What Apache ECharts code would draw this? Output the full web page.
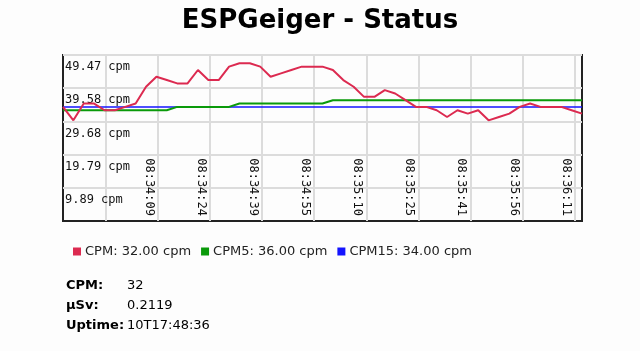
<!DOCTYPE html>
<html>
<head>
<meta charset="utf-8">
<script src="https://cdn.jsdelivr.net/npm/echarts@6/dist/echarts.min.js"></script>
<style>
  html, body { margin: 0; padding: 0; background: #fdfdfd; }
  #container { width: 640px; height: 351px; }
</style>
</head>
<body>
<div id="container"></div>
<script>
// samples every ~3s, starting 08:33:41.4 (seconds of day)
var sampleStart = 30821.43;
var sampleStep = 3.048;

var cpm = [34, 30, 35, 35, 33, 33, 34, 35, 40, 43,
           42, 41, 41, 45, 42, 42, 46, 47, 47, 46,
           43, 44, 45, 46, 46, 46, 45, 42, 40, 37,
           37, 39, 38, 36, 34, 34, 33, 31, 33, 32,
           33, 30, 31, 32, 34, 35, 34, 34, 34, 33, 32];
var cpm5 = [33, 33, 33, 33, 33, 33, 33, 33, 33, 33,
            33, 34, 34, 34, 34, 34, 34, 35, 35, 35,
            35, 35, 35, 35, 35, 35, 36, 36, 36, 36,
            36, 36, 36, 36, 36, 36, 36, 36, 36, 36,
            36, 36, 36, 36, 36, 36, 36, 36, 36, 36, 36];
var cpm15 = [34, 34, 34, 34, 34, 34, 34, 34, 34, 34,
             34, 34, 34, 34, 34, 34, 34, 34, 34, 34,
             34, 34, 34, 34, 34, 34, 34, 34, 34, 34,
             34, 34, 34, 34, 34, 34, 34, 34, 34, 34,
             34, 34, 34, 34, 34, 34, 34, 34, 34, 34, 34];

// x ticks (seconds of day), first one has no label
var xTicks = [30834.0, 30849.3, 30864.6, 30879.9, 30895.2,
              30910.5, 30925.8, 30941.1, 30956.4, 30971.7];
var yTicks = [9.894, 19.788, 29.682, 39.576, 49.47];

var statusLabels = ['CPM:', 'µSv:', 'Uptime:'];
var statusValues = ['32', '0.2119', '10T17:48:36'];

var seriesNames = ['CPM', 'CPM5', 'CPM15'];
var seriesColors = ['#dc2a50', '#0a9a0a', '#1414ff'];
var seriesData = [cpm, cpm5, cpm15];

function pad(n) { return (n < 10 ? '0' : '') + n; }
function fmtTime(s) {
    s = Math.floor(s + 1e-6);
    var h = Math.floor(s / 3600), m = Math.floor((s % 3600) / 60), sec = s % 60;
    return pad(h) + ':' + pad(m) + ':' + pad(sec);
}
function withTime(arr) {
    return arr.map(function (v, i) { return [sampleStart + i * sampleStep, v]; });
}

var dom = document.getElementById('container');
var myChart = echarts.init(dom);

var graphics = [];
statusLabels.forEach(function (lab, i) {
    graphics.push({
        type: 'text', left: 66, top: 279 + i * 20.3,
        style: { text: lab, font: 'bold 13px "DejaVu Sans"', fill: '#000' }
    });
    graphics.push({
        type: 'text', left: 127, top: 279 + i * 20.3,
        style: { text: statusValues[i], font: '13px "DejaVu Sans"', fill: '#000' }
    });
});

var option = {
    backgroundColor: '#fdfdfd',
    animation: false,
    title: {
        text: 'ESPGeiger - Status',
        left: 'center',
        top: 3,
        textStyle: { fontFamily: 'DejaVu Sans', fontSize: 26, fontWeight: 'bold', color: '#000' }
    },
    legend: {
        data: seriesNames,
        left: 68,
        top: 240,
        icon: 'rect',
        itemWidth: 8,
        itemHeight: 8,
        itemGap: 10,
        textStyle: { fontFamily: 'DejaVu Sans', fontSize: 13, color: '#222', padding: [0, 0, 0, -1] },
        formatter: function (name) {
            var d = seriesData[seriesNames.indexOf(name)];
            return name + ': ' + d[d.length - 1].toFixed(2) + ' cpm';
        }
    },
    grid: {
        left: 63, right: 58, top: 55, bottom: 130,
        show: true,
        borderColor: '#222',
        borderWidth: 2
    },
    xAxis: {
        type: 'value',
        min: sampleStart,
        max: sampleStart + (cpm.length - 1) * sampleStep,
        axisLine: { show: false },
        axisTick: { show: false, customValues: xTicks },
        splitLine: { show: true, lineStyle: { color: '#dcdcdc', width: 2 } },
        axisLabel: {
            inside: true,
            rotate: -90,
            margin: 5,
            customValues: xTicks.slice(1),
            verticalAlign: 'top',
            padding: [3, 0, 0, 0],
            fontFamily: 'DejaVu Sans Mono',
            fontSize: 12,
            color: '#111',
            formatter: function (v) { return fmtTime(v); }
        }
    },
    yAxis: {
        type: 'value',
        min: 0,
        max: 49.47,
        axisLine: { show: false },
        axisTick: { show: false, customValues: yTicks },
        splitLine: { show: true, lineStyle: { color: '#dcdcdc', width: 2 } },
        axisLabel: {
            inside: true,
            margin: 2,
            customValues: yTicks,
            verticalAlign: 'top',
            padding: [6, 0, 0, 0],
            fontFamily: 'DejaVu Sans Mono',
            fontSize: 12,
            color: '#111',
            formatter: function (v) { return v.toFixed(2) + ' cpm'; }
        }
    },
    series: [
        {
            name: 'CPM15', type: 'line', data: withTime(cpm15), showSymbol: false,
            color: seriesColors[2], lineStyle: { width: 1.5, color: seriesColors[2] }, z: 2
        },
        {
            name: 'CPM5', type: 'line', data: withTime(cpm5), showSymbol: false,
            color: seriesColors[1], lineStyle: { width: 2, color: seriesColors[1] }, z: 3
        },
        {
            name: 'CPM', type: 'line', data: withTime(cpm), showSymbol: false,
            color: seriesColors[0], lineStyle: { width: 2, color: seriesColors[0] }, z: 4
        }
    ],
    graphic: graphics
};

if (option && typeof option === "object") {
    myChart.setOption(option, true);
}
</script>
</body>
</html>
